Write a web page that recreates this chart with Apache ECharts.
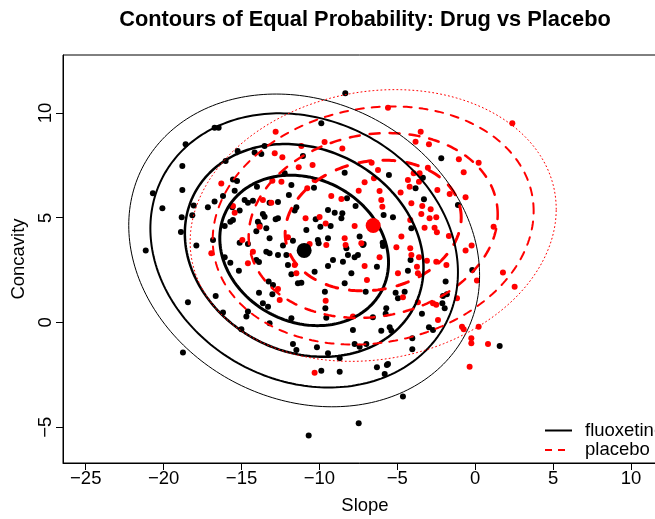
<!DOCTYPE html>
<html><head><meta charset="utf-8">
<script src="https://cdn.jsdelivr.net/npm/echarts@6/dist/echarts.min.js"></script>
<style>html,body{margin:0;padding:0;background:#fff}#c{width:655px;height:519px}</style>
</head><body><div id="c"></div>
<script>
// ---------- data ----------
const titleText = 'Contours of Equal Probability: Drug vs Placebo';
const xName = 'Slope';
const yName = 'Concavity';
const groups = ['fluoxetine', 'placebo'];
const xTicks = [-25, -20, -15, -10, -5, 0, 5, 10];
const yTicks = [-5, 0, 5, 10];
const probLevels = [0.5, 0.75, 0.9, 0.95];

const fluoxMean = [-10.98, 3.44];
const fluoxSD = [4.60, 3.05];
const fluoxRho = -0.16;
const placeboMean = [-6.55, 4.63];
const placeboSD = [4.80, 2.65];
const placeboRho = 0.12;

const fluoxX = [-16.73,-16.47,-18.59,-18.80,-20.69,-20.08,-18.80,-18.84,-18.89,-17.90,-18.07,-18.16,-21.15,-13.52,-15.25,-14.16,-13.73,-16.02,-11.06,-12.23,
-15.55,-15.29,-14.01,-11.80,-15.44,-11.96,-16.73,-17.16,-16.19,-14.80,-14.59,-14.27,-13.20,-12.66,-11.48,-11.59,-15.59,-15.12,-13.63,-13.52,
-15.55,-15.72,-16.08,-13.95,-13.84,-12.81,-12.66,-13.41,-10.84,-16.83,-13.20,-12.34,-11.70,-15.12,-14.59,-14.05,-8.34,-9.88,-2.18,-8.38,
-5.54,-3.36,-3.83,-3.29,-1.11,-8.23,-7.68,-5.88,-5.28,-8.53,-8.59,-4.10,-7.42,-7.16,-10.35,-9.45,-9.02,-10.24,-9.28,-9.94,
-10.10,-9.45,-10.05,-5.94,-8.27,-7.21,-5.92,-13.41,-13.20,-12.66,-16.08,-15.72,-14.05,-13.88,-12.02,-15.17,-11.80,-10.31,-9.45,-9.13,
-13.26,-12.98,-11.38,-11.16,-13.88,-13.02,-9.65,-16.66,-13.63,-13.30,-14.59,-14.69,-16.19,-13.20,-11.80,-9.62,-9.56,-15.01,-11.70,-11.48,
-10.16,-9.45,-8.70,-18.44,-18.76,-10.69,-12.12,-8.17,-7.74,-7.53,-8.49,-6.31,-7.95,-8.38,-7.03,-4.15,-4.32,-5.11,-4.96,-4.53,
-5.71,-5.75,-6.57,-7.85,-6.03,-5.49,-5.38,-4.04,-7.74,-7.42,-6.99,-4.04,-5.60,-1.90,-2.07,-1.82,-2.11,-1.96,-3.42,-2.97,
-2.71,-0.19,-7.48,-4.64,1.57,-6.31,-5.67,-5.81,-8.70,-9.88];
const fluoxY = [9.30,9.30,8.51,7.47,6.17,5.45,6.32,5.02,4.32,3.67,5.59,5.12,3.43,8.42,8.19,8.12,8.04,7.71,7.95,7.12,
6.83,6.75,6.48,6.56,6.29,6.09,5.77,5.50,6.04,5.85,5.72,5.81,5.72,5.75,5.50,5.34,5.50,5.34,5.18,5.05,
4.89,4.81,4.61,4.81,4.65,4.93,4.97,4.50,4.42,3.94,4.02,3.67,3.90,3.81,3.75,4.35,10.94,9.51,7.84,7.15,
7.04,6.91,6.41,5.88,5.61,5.93,5.56,5.13,5.02,5.21,4.97,4.50,4.10,3.75,6.43,5.37,5.24,4.93,4.61,4.57,
3.94,4.02,3.78,3.81,3.54,3.70,3.65,3.38,3.30,3.22,3.11,2.85,2.98,2.89,2.74,2.47,2.30,2.42,2.70,2.98,
1.95,1.79,1.87,1.90,1.42,1.35,1.47,1.26,0.92,0.75,0.52,0.28,0.47,-0.04,0.20,0.68,0.23,-0.32,-1.03,-1.31,
-1.18,-1.47,-1.71,0.96,-1.44,-5.40,3.22,3.22,3.11,3.22,2.90,2.66,2.35,1.87,1.47,2.98,2.47,1.42,1.16,1.47,
0.68,0.41,0.25,-0.36,-0.39,-0.23,-0.39,-0.75,-1.03,-1.16,-1.03,-1.28,-1.98,1.95,1.26,1.35,0.92,0.68,0.41,-0.23,
-0.36,2.51,-4.81,-3.54,-1.12,-2.14,-2.03,-2.46,-2.35,-2.30];

const placeboX = [-5.60,2.38,0.22,1.18,-0.23,1.78,0.11,2.53,0.22,-0.25,-0.25,0.82,-0.36,-10.31,-3.50,-3.83,-2.97,-8.53,-6.65,-6.24,
-1.05,-0.74,-3.04,-3.57,-3.95,-4.32,-4.21,-3.61,-6.50,-7.10,-2.43,-1.64,-0.62,-6.14,-4.79,-7.48,-8.59,-4.10,-3.40,-2.86,
-6.03,-5.96,-3.46,-2.93,-2.50,-4.17,-2.61,-2.46,-3.25,-7.74,-8.38,-4.74,-1.69,-12.81,-12.87,-12.38,-11.16,-11.33,-16.30,-12.44,
-13.02,-10.78,-13.63,-13.09,-15.55,-10.89,-13.84,-12.02,-14.95,-15.44,-10.63,-9.24,-9.60,-10.44,-9.67,-9.99,-10.31,-16.94,-14.27,-14.59,
-11.59,-11.48,-9.56,-12.66,-12.55,-9.60,-8.32,-7.31,-6.14,-7.10,-5.06,-4.17,-4.10,-3.61,-3.74,-3.10,-2.50,-1.85,-0.62,-4.96,
-6.95,-3.68,-1.17,-4.64,-3.68,-2.71,-2.50,-2.39,-0.85,-0.74,-7.85];
const placeboY = [10.25,9.51,7.63,4.57,3.67,2.38,2.00,1.71,-0.20,-0.75,-0.99,-1.03,-2.11,-2.40,9.11,8.63,8.51,8.31,7.63,7.28,
7.79,7.17,7.39,7.12,7.12,6.80,6.48,6.72,6.88,6.69,6.32,6.13,5.98,6.28,6.20,6.29,5.89,5.69,5.56,5.40,
5.85,5.53,5.18,4.97,5.02,4.89,4.52,4.31,4.52,4.61,4.02,4.10,4.13,9.11,8.08,7.89,8.42,7.41,6.64,6.72,
6.77,6.41,5.85,5.72,5.56,4.97,4.57,4.07,3.94,5.24,3.75,6.04,4.73,7.52,8.62,5.04,6.80,3.30,3.38,2.83,
2.74,2.35,3.70,1.60,1.07,1.04,3.70,3.78,3.11,2.70,3.59,3.54,3.22,3.11,2.66,2.95,2.90,2.74,3.43,2.35,
2.03,2.35,1.16,1.20,0.96,0.92,0.84,0.12,-0.20,-0.32,0.28];

// ---------- styles ----------
const FONT = '"Liberation Sans", Arial, Helvetica, sans-serif';
const FS = 18.5;
const levelWidths = [3, 2.5, 2, 1];
const placeboDash = [[12, 12], [10, 10], [8, 8], [1, 3]];

function ellipse(mean, sd, rho, p) {
  const r = Math.sqrt(-2 * Math.log(1 - p));
  const pts = [];
  const n = 240;
  for (let i = 0; i <= n; i++) {
    const t = 2 * Math.PI * i / n;
    const c = Math.cos(t), s = Math.sin(t);
    pts.push([mean[0] + r * sd[0] * c, mean[1] + r * sd[1] * (rho * c + Math.sqrt(1 - rho * rho) * s)]);
  }
  return pts;
}
const minus = v => (v < 0 ? '\u2212' + Math.abs(v) : String(v));

const series = [];
series.push({ type: 'scatter', name: 'fluox-pts', z: 2, symbol: 'circle', symbolSize: 6,
  itemStyle: { color: '#000', opacity: 1 }, data: fluoxX.map((x, i) => [x, fluoxY[i]]) });
series.push({ type: 'scatter', name: 'placebo-pts', z: 3, symbol: 'circle', symbolSize: 6,
  itemStyle: { color: '#ff0000', opacity: 1 }, data: placeboX.map((x, i) => [x, placeboY[i]]) });
probLevels.forEach((p, k) => {
  series.push({ type: 'line', name: 'fluox-c' + k, z: 4, showSymbol: false, symbol: 'none', silent: true,
    lineStyle: { color: '#000', width: levelWidths[k] }, data: ellipse(fluoxMean, fluoxSD, fluoxRho, p) });
  series.push({ type: 'line', name: 'placebo-c' + k, z: 4, showSymbol: false, symbol: 'none', silent: true,
    lineStyle: { color: '#ff0000', width: levelWidths[k], type: placeboDash[k], cap: 'round' },
    data: ellipse(placeboMean, placeboSD, placeboRho, p) });
});
series.push({ type: 'scatter', name: 'means', z: 5, symbol: 'circle', symbolSize: 15,
  data: [ { value: fluoxMean, itemStyle: { color: '#000', opacity: 1 } }, { value: placeboMean, itemStyle: { color: '#ff0000', opacity: 1 } } ] });
series.push({ type: 'line', name: groups[0], data: [], symbol: 'none', lineStyle: { color: '#000', width: 2 }, itemStyle: { color: '#000' } });
series.push({ type: 'line', name: groups[1], data: [], symbol: 'none', lineStyle: { color: '#ff0000', width: 2 }, itemStyle: { color: '#ff0000' } });

const chart = echarts.init(document.getElementById('c'), null, { renderer: 'canvas' });
chart.setOption({
  animation: false,
  backgroundColor: '#fff',
  title: { text: titleText, left: 365, top: 9, padding: 0, textAlign: 'center',
    textStyle: { fontFamily: FONT, fontSize: 21.8, fontWeight: 'bold', color: '#000' } },
  legend: { left: 545, top: 421, orient: 'vertical', itemWidth: 27, itemHeight: 2, itemGap: 0.5,
    selectedMode: false, padding: 0,
    data: [
      { name: groups[0], icon: 'path://M0,0h27v2h-27z' },
      { name: groups[1], icon: 'path://M0,0h7v2h-7zM13,0h7v2h-7zM26.95,0h0.05v0.02h-0.05z' }
    ],
    textStyle: { fontFamily: FONT, fontSize: FS, lineHeight: 16, color: '#000', padding: [0, 0, 0, 8] } },
  grid: { left: 63, top: 55, width: 604, height: 408, show: true, borderColor: '#000', borderWidth: 1,
    backgroundColor: 'transparent', containLabel: false, outerBoundsMode: 'none' },
  xAxis: { type: 'value', min: -26.46, max: 12.31,
    axisLine: { show: true, onZero: false, lineStyle: { color: '#000', width: 1 } }, splitLine: { show: false },
    axisTick: { show: true, length: 7, customValues: xTicks, lineStyle: { color: '#000', width: 1 } },
    axisLabel: { customValues: xTicks, formatter: minus, color: '#000', fontSize: FS, fontFamily: FONT, margin: 6 },
    name: xName, nameLocation: 'middle', nameGap: 33,
    nameTextStyle: { fontFamily: FONT, fontSize: FS, color: '#000' } },
  yAxis: { type: 'value', min: -6.71, max: 12.77,
    axisLine: { show: true, onZero: false, lineStyle: { color: '#000', width: 1 } }, splitLine: { show: false },
    axisTick: { show: true, length: 7, customValues: yTicks, lineStyle: { color: '#000', width: 1 } },
    axisLabel: { customValues: yTicks, formatter: minus, color: '#000', fontSize: FS, fontFamily: FONT, margin: 8, rotate: 90 },
    name: yName, nameLocation: 'middle', nameGap: 34,
    nameTextStyle: { fontFamily: FONT, fontSize: FS, color: '#000' } },
  series: series
});
</script></body></html>
